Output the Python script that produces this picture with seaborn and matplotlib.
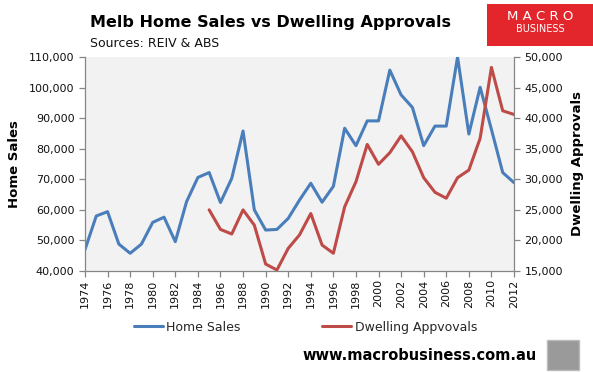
import seaborn as sns
import matplotlib.pyplot as plt
import matplotlib.ticker as mticker
from matplotlib.patches import Rectangle
import pandas as pd

years = list(range(1974, 2013))
home_sales = [47000, 58000, 59400, 48800, 45800, 48800, 55900, 57600, 49600, 62700,
              70600, 72200, 62400, 70300, 85800, 60000, 53400, 53600, 57200, 63200,
              68700, 62500, 67700, 86700, 81000, 89100, 89100, 105700, 97600, 93500,
              81000, 87400, 87400, 110000, 84800, 100100, 86300, 72200, 68900]
approval_years = list(range(1985, 2013))
dwelling_approvals = [25000, 21800, 21050, 25000, 22500, 16140, 15160, 18700, 20900, 24400,
                      19250, 17900, 25500, 29600, 35700, 32450, 34350, 37100, 34500, 30260,
                      27870, 26900, 30260, 31500, 36700, 48300, 41200, 40600]

blue = "#4a7ebb"
red = "#be4b48"
spine = "#868686"

sales_df = pd.DataFrame({"year": years, "value": home_sales})
appr_df = pd.DataFrame({"year": approval_years, "value": dwelling_approvals})

sns.set_style("white")
plt.rcParams["font.family"] = ["DejaVu Sans"]

fig = plt.figure(figsize=(5.93, 3.72), dpi=100)
ax = fig.add_axes([0.1433, 0.2715, 0.7235, 0.5753])
ax.set_facecolor("#f2f2f2")
ax2 = ax.twinx()

sns.lineplot(data=sales_df, x="year", y="value", ax=ax, color=blue, linewidth=2.2,
             label="Home Sales", legend=False)
sns.lineplot(data=appr_df, x="year", y="value", ax=ax2, color=red, linewidth=2.2,
             label="Dwelling Appvovals", legend=False)

ax.set_xlim(1974, 2012)
ax.set_ylim(40000, 110000)
ax2.set_ylim(15000, 50000)
ax.set_xticks(list(range(1974, 2013, 2)))
ax.yaxis.set_major_locator(mticker.MultipleLocator(10000))
ax2.yaxis.set_major_locator(mticker.MultipleLocator(5000))
fmt = mticker.FuncFormatter(lambda v, p: f"{int(v):,}")
ax.yaxis.set_major_formatter(fmt)
ax2.yaxis.set_major_formatter(fmt)

for a in (ax, ax2):
    a.spines["top"].set_visible(False)
    for s in ("left", "right", "bottom"):
        a.spines[s].set_color(spine)
        a.spines[s].set_linewidth(0.9)
    a.tick_params(axis="both", which="major", length=4, width=0.9, color=spine,
                  labelsize=8, labelcolor="#111111", direction="out")
ax.spines["right"].set_visible(False)
ax2.spines["left"].set_visible(False)
ax2.spines["bottom"].set_visible(False)
ax.tick_params(axis="x", rotation=90, bottom=True, pad=2)
ax.tick_params(axis="y", left=True)
ax2.tick_params(axis="y", right=True)

ax.set_xlabel("")
ax.set_ylabel("Home Sales", fontsize=9.5, fontweight="bold", labelpad=6, color="black")
ax2.set_ylabel("Dwelling Approvals", fontsize=9.5, fontweight="bold", labelpad=6,
               color="black")

fig.text(0.152, 0.94, "Melb Home Sales vs Dwelling Approvals", fontsize=11.5,
         fontweight="bold", ha="left", va="center", color="black")
fig.text(0.152, 0.882, "Sources: REIV & ABS", fontsize=9, ha="left", va="center",
         color="#111111")

h1, l1 = ax.get_legend_handles_labels()
h2, l2 = ax2.get_legend_handles_labels()
fig.legend(h1 + h2, l1 + l2, loc="center", bbox_to_anchor=(0.515, 0.12), ncol=2,
           frameon=False, fontsize=9, handlelength=2.3, columnspacing=6.5,
           handletextpad=0.3)

fig.text(0.708, 0.045, "www.macrobusiness.com.au", fontsize=10.5, fontweight="bold",
         ha="center", va="center", color="black")

# logo box
fig.patches.append(Rectangle((487 / 593, 1 - 46 / 372), 106 / 593, 42 / 372,
                             transform=fig.transFigure, facecolor="#e3262b",
                             edgecolor="none"))
fig.text(540 / 593, 1 - 16 / 372, "M A C R O", color="white", fontsize=9.5,
         ha="center", va="center")
fig.text(540 / 593, 1 - 29 / 372, "BUSINESS", color="white", fontsize=7,
         ha="center", va="center")
fig.patches.append(Rectangle((547 / 593, 1 - 370 / 372), 32 / 593, 30 / 372,
                             transform=fig.transFigure, facecolor="#9a9a9a",
                             edgecolor="#bbbbbb"))

fig.savefig("out.png", dpi=100)
